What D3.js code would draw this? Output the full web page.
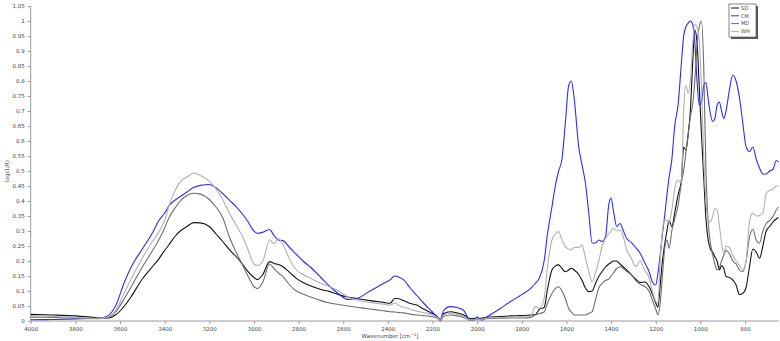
<!DOCTYPE html>
<html>
<head>
<meta charset="utf-8">
<script src="https://cdn.jsdelivr.net/npm/d3@7"></script>
<style>
  body { margin: 0; background: #fff; }
  svg { display: block; font-family: "DejaVu Sans", Verdana, sans-serif; }
</style>
</head>
<body>
<div id="chart"></div>
<script>
// Data (wavenumber in cm-1, values log(1/R))
const wavenumbers = [4000, 3900, 3800, 3700, 3660, 3620, 3580, 3550, 3500, 3450, 3430, 3400, 3380, 3350, 3330, 3300, 3270, 3240, 3200, 3170, 3140, 3110, 3080, 3050, 3030, 3000, 2985, 2960, 2930, 2910, 2890, 2870, 2840, 2810, 2780, 2740, 2700, 2660, 2620, 2580, 2540, 2480, 2420, 2390, 2370, 2350, 2330, 2300, 2270, 2240, 2200, 2180, 2165, 2150, 2120, 2090, 2060, 2035, 2015, 2000, 1990, 1978, 1960, 1900, 1850, 1800, 1760, 1740, 1720, 1700, 1685, 1665, 1650, 1635, 1620, 1605, 1590, 1578, 1565, 1545, 1530, 1515, 1500, 1485, 1470, 1455, 1440, 1425, 1410, 1400, 1390, 1375, 1360, 1345, 1330, 1310, 1290, 1270, 1250, 1230, 1215, 1200, 1190, 1180, 1170, 1160, 1150, 1140, 1128, 1115, 1100, 1085, 1075, 1065, 1055, 1045, 1035, 1025, 1015, 1005, 995, 985, 975, 965, 955, 945, 935, 925, 915, 905, 895, 885, 870, 855, 840, 825, 810, 795, 780, 765, 750, 735, 720, 705, 690, 675, 660, 650]

const SD = [0.022, 0.02, 0.017, 0.011, 0.009, 0.02, 0.05, 0.081, 0.14, 0.185, 0.203, 0.235, 0.255, 0.285, 0.3, 0.315, 0.328, 0.327, 0.315, 0.29, 0.265, 0.238, 0.215, 0.188, 0.168, 0.145, 0.138, 0.155, 0.198, 0.192, 0.188, 0.181, 0.162, 0.142, 0.128, 0.115, 0.105, 0.098, 0.088, 0.08, 0.075, 0.068, 0.062, 0.059, 0.075, 0.074, 0.068, 0.058, 0.053, 0.04, 0.025, 0.015, 0.003, 0.025, 0.031, 0.027, 0.02, 0.009, 0.008, 0.01, 0.008, 0.01, 0.012, 0.015, 0.017, 0.018, 0.02, 0.021, 0.04, 0.045, 0.105, 0.17, 0.183, 0.187, 0.175, 0.164, 0.17, 0.176, 0.17, 0.155, 0.135, 0.11, 0.098, 0.1, 0.125, 0.148, 0.165, 0.18, 0.19, 0.195, 0.2, 0.2, 0.19, 0.18, 0.17, 0.155, 0.14, 0.128, 0.13, 0.115, 0.09, 0.06, 0.046, 0.12, 0.2, 0.255, 0.3, 0.335, 0.314, 0.36, 0.42, 0.47, 0.58, 0.57, 0.62, 0.7, 0.85, 0.97, 0.93, 0.78, 0.62, 0.48, 0.34, 0.27, 0.24, 0.23, 0.214, 0.2, 0.17, 0.185, 0.175, 0.148, 0.145, 0.137, 0.12, 0.088, 0.092, 0.113, 0.18, 0.24, 0.23, 0.209, 0.25, 0.3, 0.315, 0.33, 0.34, 0.345]

const CM = [0.004, 0.005, 0.007, 0.009, 0.015, 0.05, 0.13, 0.18, 0.24, 0.3, 0.33, 0.36, 0.385, 0.405, 0.415, 0.43, 0.445, 0.452, 0.455, 0.444, 0.425, 0.403, 0.381, 0.355, 0.335, 0.3, 0.292, 0.296, 0.305, 0.285, 0.27, 0.268, 0.245, 0.222, 0.2, 0.175, 0.145, 0.115, 0.09, 0.072, 0.075, 0.1, 0.125, 0.137, 0.15, 0.146, 0.138, 0.11, 0.085, 0.06, 0.03, 0.015, 0.006, 0.035, 0.048, 0.045, 0.035, 0.005, 0.004, 0.014, 0.008, 0.003, 0.012, 0.04, 0.065, 0.088, 0.109, 0.125, 0.145, 0.2, 0.29, 0.38, 0.45, 0.5, 0.54, 0.66, 0.785, 0.8, 0.74, 0.58, 0.52, 0.46, 0.36, 0.26, 0.26, 0.27, 0.265, 0.28, 0.39, 0.41, 0.37, 0.315, 0.325, 0.3, 0.275, 0.262, 0.245, 0.226, 0.195, 0.165, 0.13, 0.12, 0.16, 0.22, 0.29, 0.35, 0.42, 0.48, 0.537, 0.65, 0.72, 0.86, 0.95, 0.98, 0.993, 1.0, 0.99, 0.93, 0.8, 0.72, 0.73, 0.785, 0.795, 0.74, 0.69, 0.665, 0.675, 0.72, 0.73, 0.7, 0.675, 0.7, 0.77, 0.82, 0.8, 0.745, 0.66, 0.58, 0.565, 0.58, 0.54, 0.51, 0.49, 0.49, 0.5, 0.505, 0.535, 0.53]

const MD = [0.013, 0.012, 0.01, 0.008, 0.01, 0.03, 0.075, 0.114, 0.18, 0.24, 0.265, 0.31, 0.345, 0.38, 0.4, 0.418, 0.426, 0.423, 0.405, 0.38, 0.345, 0.28, 0.23, 0.185, 0.155, 0.115, 0.108, 0.13, 0.19, 0.175, 0.16, 0.148, 0.12, 0.1, 0.09, 0.078, 0.068, 0.06, 0.055, 0.05, 0.046, 0.04, 0.034, 0.031, 0.03, 0.028, 0.027, 0.023, 0.02, 0.018, 0.014, 0.01, 0.0, 0.015, 0.02, 0.017, 0.012, 0.003, 0.003, 0.006, 0.004, 0.007, 0.008, 0.009, 0.01, 0.01, 0.012, 0.02, 0.025, 0.03, 0.06, 0.092, 0.108, 0.114, 0.1, 0.075, 0.042, 0.03, 0.02, 0.02, 0.02, 0.02, 0.025, 0.031, 0.07, 0.11, 0.125, 0.135, 0.14, 0.15, 0.16, 0.175, 0.181, 0.175, 0.165, 0.155, 0.135, 0.122, 0.115, 0.1, 0.07, 0.04, 0.02, 0.06, 0.15, 0.24, 0.27, 0.242, 0.3, 0.34, 0.385, 0.46, 0.5, 0.56, 0.62, 0.68, 0.72, 0.8, 0.92, 0.98, 1.0, 0.85, 0.5, 0.33, 0.26, 0.22, 0.19, 0.17, 0.178, 0.2, 0.22, 0.235, 0.225, 0.2, 0.19, 0.17, 0.164, 0.2, 0.28, 0.305, 0.27, 0.26, 0.3, 0.325, 0.335, 0.348, 0.37, 0.38]

const WH = [0.018, 0.015, 0.012, 0.009, 0.012, 0.035, 0.095, 0.14, 0.21, 0.27, 0.292, 0.335, 0.385, 0.44, 0.464, 0.48, 0.493, 0.485, 0.466, 0.44, 0.405, 0.36, 0.32, 0.28, 0.245, 0.19, 0.185, 0.2, 0.27, 0.258, 0.275, 0.255, 0.205, 0.17, 0.155, 0.14, 0.125, 0.114, 0.1, 0.08, 0.07, 0.062, 0.056, 0.053, 0.06, 0.052, 0.046, 0.04, 0.033, 0.028, 0.02, 0.012, 0.003, 0.02, 0.025, 0.022, 0.015, 0.004, 0.004, 0.008, 0.005, 0.006, 0.009, 0.011, 0.012, 0.013, 0.015, 0.048, 0.042, 0.075, 0.18, 0.27, 0.29, 0.298, 0.27, 0.248, 0.24, 0.237, 0.245, 0.245, 0.253, 0.21, 0.165, 0.131, 0.16, 0.2, 0.25, 0.275, 0.29, 0.3, 0.31, 0.3, 0.303, 0.28, 0.237, 0.21, 0.182, 0.2, 0.17, 0.145, 0.1, 0.065, 0.06, 0.2, 0.3, 0.337, 0.335, 0.33, 0.37, 0.44, 0.47, 0.46, 0.7, 0.785, 0.76, 0.8, 0.92, 0.99, 0.98, 0.93, 0.78, 0.55, 0.4, 0.34, 0.33, 0.35, 0.375, 0.37, 0.32, 0.26, 0.225, 0.25, 0.245, 0.22, 0.2, 0.185, 0.17, 0.2, 0.33, 0.36, 0.35, 0.352, 0.36, 0.425, 0.435, 0.438, 0.45, 0.45]

const seriesNames = ['SD', 'CM', 'MD', 'WH']
const seriesValues = [SD, CM, MD, WH]
const seriesColors = ['#111111', '#2b2bff', '#6e6e6e', '#b0b0b0']

const xTicks = [4000, 3800, 3600, 3400, 3200, 3000, 2800, 2600, 2400, 2200, 2000, 1800, 1600, 1400, 1200, 1000, 800]
const yTicks = [0, 0.05, 0.1, 0.15, 0.2, 0.25, 0.3, 0.35, 0.4, 0.45, 0.5, 0.55, 0.6, 0.65, 0.7, 0.75, 0.8, 0.85, 0.9, 0.95, 1, 1.05]

const width = 780
const height = 341

const svg = d3.select('#chart')
  .append('svg')
  .attr('width', width)
  .attr('height', height)

// scales
const x = d3.scaleLinear().domain([4000, 650]).range([30.7, 778.5])
const y = d3.scaleLinear().domain([0, 1.05]).range([321, 6])

// minor ticks
const xMinor = d3.range(4000, 649, -50).filter(d => !xTicks.includes(d))
const yMinor = d3.range(0, 106).map(d => d / 100).filter(d => Math.round(d * 100) % 5 !== 0)

const axisColor = '#9a9a9a'
const textColor = '#444'

// x axis
const gx = svg.append('g').attr('transform', `translate(0,${y(0)})`)
gx.call(d3.axisBottom(x).tickValues(xMinor).tickSize(2).tickFormat(''))
gx.call(d3.axisBottom(x).tickValues(xTicks).tickSize(3).tickPadding(3).tickFormat(d3.format('d')))
gx.selectAll('.domain').attr('stroke', axisColor).attr('d', `M${x(4000)},0H${x(650)}`)
gx.selectAll('line').attr('stroke', axisColor)
gx.selectAll('text').attr('fill', textColor).attr('font-size', 5.5)
  .attr('font-family', '"DejaVu Sans", Verdana, sans-serif')

// y axis
const gy = svg.append('g').attr('transform', `translate(${x(4000)},0)`)
gy.call(d3.axisLeft(y).tickValues(yMinor).tickSize(2).tickFormat(''))
gy.call(d3.axisLeft(y).tickValues(yTicks).tickSize(3).tickPadding(3).tickFormat(d => String(+d.toFixed(2))))
gy.selectAll('.domain').attr('stroke', axisColor).attr('d', `M0,${y(0)}V${y(1.05)}`)
gy.selectAll('line').attr('stroke', axisColor)
gy.selectAll('text').attr('fill', textColor).attr('font-size', 5.5)
  .attr('font-family', '"DejaVu Sans", Verdana, sans-serif')

// axis titles
svg.append('text')
  .attr('transform', `translate(9,${y(0.5)}) rotate(-90)`)
  .attr('text-anchor', 'middle')
  .attr('font-size', 5.5)
  .attr('fill', textColor)
  .text('log(1/R)')

const xt = svg.append('text')
  .attr('x', 390)
  .attr('y', 338)
  .attr('text-anchor', 'middle')
  .attr('font-size', 5.5)
  .attr('fill', textColor)
xt.append('tspan').text('Wavenumber [cm')
xt.append('tspan').attr('font-size', 4).attr('dy', -2).text('−1')
xt.append('tspan').attr('dy', 2).text(']')

// lines
const line = d3.line()
  .x((d, i) => x(wavenumbers[i]))
  .y(d => y(d))
  .curve(d3.curveMonotoneX)

svg.append('g')
  .attr('fill', 'none')
  .attr('stroke-width', 1.1)
  .attr('stroke-linejoin', 'round')
  .selectAll('path')
  .data(seriesValues)
  .join('path')
  .attr('stroke', (d, i) => seriesColors[i])
  .attr('d', d => line(d))

// legend
const lg = svg.append('g').attr('transform', 'translate(729,4)')
lg.append('rect')
  .attr('x', 2).attr('y', 2)
  .attr('width', 27).attr('height', 33)
  .attr('fill', '#555')
lg.append('rect')
  .attr('width', 27).attr('height', 33)
  .attr('fill', '#fff')
  .attr('stroke', '#666')
  .attr('stroke-width', 0.8)

const items = lg.selectAll('g.item')
  .data(seriesNames)
  .join('g')
  .attr('class', 'item')
  .attr('transform', (d, i) => `translate(0,${4 + i * 7.8})`)
items.append('line')
  .attr('x1', 2).attr('x2', 10)
  .attr('stroke', (d, i) => seriesColors[i])
  .attr('stroke-width', 1)
items.append('text')
  .attr('x', 12)
  .attr('dy', '0.35em')
  .attr('font-size', 5)
  .attr('fill', textColor)
  .text(d => d)
</script>
</body>
</html>
